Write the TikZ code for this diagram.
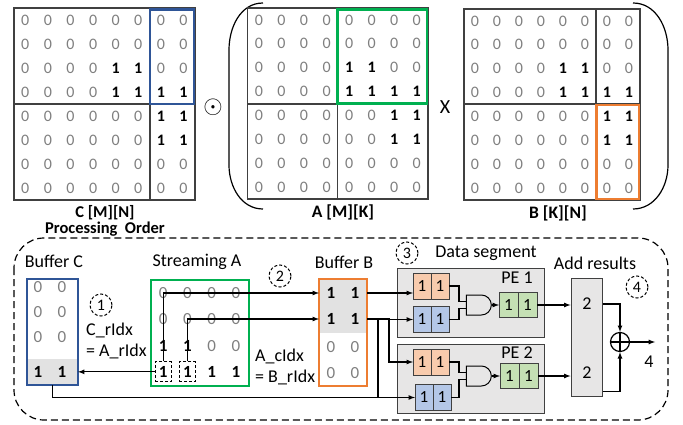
\documentclass[tikz,border=0pt]{standalone}
\usepackage{fontspec}
\setmainfont{Carlito}
\usepackage{tikz}
\usetikzlibrary{arrows,positioning,calc}
\usetikzlibrary{shapes.gates.logic.US}

\definecolor{cblue}{HTML}{2F5597}
\definecolor{agreen}{HTML}{00B050}
\definecolor{borange}{HTML}{ED7D31}
\definecolor{peorange}{HTML}{F8CBAD}
\definecolor{peblue}{HTML}{B4C7E7}
\definecolor{pegreen}{HTML}{C5E0B4}
\definecolor{pegray}{HTML}{E7E6E6}
\definecolor{bufgray}{HTML}{E2E2E2}
\definecolor{zerogray}{HTML}{7F7F7F}
\definecolor{framegray}{HTML}{404040}

% 8x8 block pattern shared by C, A and B
\newcommand{\blockrows}{{0,0,0,0,0,0,0,0},{0,0,0,0,0,0,0,0},{0,0,0,0,1,1,0,0},{0,0,0,0,1,1,1,1},%
  {0,0,0,0,0,0,1,1},{0,0,0,0,0,0,1,1},{0,0,0,0,0,0,0,0},{0,0,0,0,0,0,0,0}}
% name, x0, y0, dx, dy, rows
\newcommand{\sparsemat}[6]{%
  \foreach \rowvals [count=\ri from 0] in #6{%
    \foreach \v [count=\ci from 0] in \rowvals{%
      \node[mcell] (#1-\ri-\ci) at ({#2+(\ci+0.5)*#4},{#3+(\ri+0.5)*#5})
        {\ifnum\v=1 \bfseries\color{black}\fi\v};
    }%
  }%
}

\begin{document}
\begin{tikzpicture}
    [x=1pt,y=-1pt,line join=miter,
     mcell/.style={text=zerogray,inner sep=0,font=\fontsize{16}{16}\selectfont},
     bcell/.style={text=zerogray,inner sep=0,font=\fontsize{17}{17}\selectfont},
     lbl/.style={inner sep=1,font=\fontsize{18}{18}\selectfont},
     ttl/.style={inner sep=1,align=center,font=\fontsize{17.5}{15}\selectfont\bfseries},
     numcirc/.style={circle,draw,dash pattern=on 3pt off 2pt,line width=1,minimum size=22,inner sep=0,font=\fontsize{16}{16}\selectfont},
     matframe/.style={draw=framegray,line width=1.1},
     conn/.style={line width=1.2,-latex},
     wire/.style={line width=1.2},
     bufbox/.style={draw,line width=2.6,inner sep=0,outer sep=0},
     pecell/.style={draw=framegray,line width=0.9,minimum width=18,minimum height=26,inner sep=0,outer sep=0,font=\fontsize{17}{17}\selectfont},
     pebox/.style={draw=framegray,fill=pegray,line width=1,inner sep=0},
     andg/.style={and gate US,draw,logic gate inputs=nn,minimum height=20,minimum width=20,inner sep=0,line width=1}]
\useasboundingbox (0,0) rectangle (683,425);

%top row: C = A x B
% C [M][N]
\draw[matframe] (14,8) rectangle (195,200) (150,8) -- (150,200) (14,104) -- (195,104);
\sparsemat{C}{14}{8}{22.6}{24}{\blockrows}
\draw[cblue,line width=2.8] (150,9.5) rectangle (194,104);
\node[ttl,font=\fontsize{16.5}{16.5}\selectfont\bfseries] (ctitle) at (105,221) {C [M][N]\\Processing~ Order};

\node (hadamard) at (213,107) {\fontsize{28}{28}\selectfont$\odot$};

% A [M][K]
\draw[line width=1.2] (263,3) to[out=180,in=90] (229,50) -- (229,165) to[out=-90,in=180] (263,209);
\draw[matframe] (247.7,8) rectangle (428,199) (337.7,8) -- (337.7,199) (247.7,104) -- (428,104);
\sparsemat{A}{247.7}{8}{22.54}{23.9}{\blockrows}
\draw[agreen,line width=2.8] (337.7,9.5) rectangle (427,103.5);
\node[ttl] (atitle) at (343,212) {A [M][K]};

\node[lbl,font=\fontsize{20}{20}\selectfont] (times) at (445,107) {X};

% B [K][N]
\draw[matframe] (464,9) rectangle (640,200) (596,9) -- (596,200) (464,104) -- (640,104);
\sparsemat{B}{464}{9}{22}{23.9}{\blockrows}
\draw[borange,line width=2.8] (596.5,105) rectangle (639,199);
\draw[line width=1.2] (633,3) to[out=0,in=90] (668,50) -- (668,165) to[out=-90,in=0] (633,209);
\node[ttl] (btitle) at (558,213) {B [K][N]};

%bottom row: dataflow
\draw[line width=1.2,dash pattern=on 7pt off 4pt,rounded corners=30] (14,238) rectangle (668,420);

% Buffer C
\fill[bufgray] (27,359) rectangle (78,385);
\node[bufbox,draw=cblue,minimum width=51,minimum height=106] (bufC) at (52.5,332) {};
\foreach \y/\a/\b [count=\ri from 0] in {287/0/0,312/0/0,337/0/0,372/1/1}{
  \node[bcell] (bc-\ri-0) at (38,\y) {\ifnum\a=1 \bfseries\color{black}\fi\a};
  \node[bcell] (bc-\ri-1) at (62,\y) {\ifnum\b=1 \bfseries\color{black}\fi\b};
}
\node[lbl] (bufCname) at (54,261) {Buffer C};
\node[numcirc] (s1) at (101,305) {1};
\node[lbl,anchor=west] (crow) at (85,330) {C\_rIdx};
\node[lbl,anchor=west] (crowA) at (85,351) {= A\_rIdx};

% Streaming A
\node[bufbox,draw=agreen,minimum width=98,minimum height=106] (streamA) at (200,333) {};
\begin{scope}[mcell/.append style={font=\fontsize{17}{17}\selectfont}]
\sparsemat{sa}{151}{279.8}{24.3}{26.3}{{{0,0,0,0},{0,0,0,0},{1,1,0,0},{1,1,1,1}}}
\end{scope}
\node[draw,dash pattern=on 3pt off 2pt,line width=1,minimum width=16,minimum height=20] (sa1) at (sa-3-0) {};
\node[draw,dash pattern=on 3pt off 2pt,line width=1,minimum width=16,minimum height=20] (sa2) at (sa-3-1) {};
\node[lbl] (streamname) at (197,262) {Streaming A};
\node[lbl,anchor=west] (acol) at (254,356) {A\_cIdx};
\node[lbl,anchor=west] (acolB) at (254,377) {= B\_rIdx};

% Buffer B
\fill[bufgray] (319,279) rectangle (367,333);
\node[bufbox,draw=borange,minimum width=48,minimum height=107] (bufB) at (343,332.5) {};
\foreach \y/\a/\b [count=\ri from 0] in {293/1/1,319/1/1,347/0/0,373/0/0}{
  \node[bcell] (bb-\ri-0) at (331,\y) {\ifnum\a=1 \bfseries\color{black}\fi\a};
  \node[bcell] (bb-\ri-1) at (355,\y) {\ifnum\b=1 \bfseries\color{black}\fi\b};
}
\node[lbl] (bufBname) at (344,262) {Buffer B};
\node[numcirc] (s2) at (280,276) {2};

% PEs
\node[pebox,minimum width=147,minimum height=69] (pe1) at (470.5,302.5) {};
\node[pebox,minimum width=147,minimum height=69] (pe2) at (470.5,378.5) {};
\node[numcirc] (s3) at (407,253) {3};
\node[lbl] (segname) at (486,253) {Data segment};
\node[lbl] (pe1name) at (517,278) {PE 1};
\node[lbl] (pe2name) at (517,353) {PE 2};

\node[pecell,fill=peorange] (pe1a1) at (422,286) {1};
\node[pecell,fill=peorange,right=0pt of pe1a1] (pe1a2) {1};
\node[pecell,fill=peblue] (pe1b1) at (422,319.5) {1};
\node[pecell,fill=peblue,right=0pt of pe1b1] (pe1b2) {1};
\node[andg] (and1) at (478,305) {};
\node[pecell,fill=pegreen,minimum width=19,minimum height=25] (pe1c1) at (508.5,305) {1};
\node[pecell,fill=pegreen,minimum width=19,minimum height=25,right=0pt of pe1c1] (pe1c2) {1};

\node[pecell,fill=peorange] (pe2a1) at (422,362) {1};
\node[pecell,fill=peorange,right=0pt of pe2a1] (pe2a2) {1};
\node[pecell,fill=peblue] (pe2b1) at (424,397.5) {1};
\node[pecell,fill=peblue,right=0pt of pe2b1] (pe2b2) {1};
\node[andg] (and2) at (478,376) {};
\node[pecell,fill=pegreen,minimum width=19,minimum height=25] (pe2c1) at (509.5,376) {1};
\node[pecell,fill=pegreen,minimum width=19,minimum height=25,right=0pt of pe2c1] (pe2c2) {1};

\draw[wire] (pe1a2.east) -- ++(10,0) |- (and1.input 1);
\draw[wire] (pe1b2.east) -- ++(10,0) |- (and1.input 2);
\draw[conn] (and1.output) -- (pe1c1.west);
\draw[wire] (pe2a2.east) -- ++(10,0) |- (and2.input 1);
\draw[wire] (pe2b2.east) -- ++(8,0) |- (and2.input 2);
\draw[conn] (and2.output) -- (pe2c1.west);

% Add results
\node[pebox,minimum width=31,minimum height=118] (adder) at (586.5,337) {};
\node[lbl] (sum1) at (587,304) {2};
\node[lbl] (sum2) at (587,373) {2};
\node[lbl] (addname) at (595,263) {Add results};
\node[numcirc] (s4) at (637,287) {4};
\node[circle,draw,line width=1.2,minimum size=19,inner sep=0] (plus) at (620,342) {};
\draw[line width=1.2] (plus.north) -- (plus.south) (plus.west) -- (plus.east);
\node[lbl] (total) at (649,362) {4};

%connectors
\draw[conn] (sa1.north) |- (bufB.west |- bb-0-0);
\draw[conn] (sa2.north) |- (bufB.west |- bb-1-0);
\draw[conn] (sa1.west) -- (bufC.east |- sa1.west);
\draw[conn] (bufC.south) |- (pe2b1.west);
\coordinate (tap) at (378,397.5);
\draw[conn] (tap) |- (pe1b1.west);
\draw[conn] (bufB.east |- bb-0-0) -- (pe1a1.west |- bb-0-0);
\draw[conn] (bufB.east |- bb-1-0) -- ++(22,0) |- (pe2a1.west);
\draw[conn] (pe1c2.east) -- (adder.west |- pe1c2.east);
\draw[conn] (pe2c2.east) -- (adder.west |- pe2c2.east);
\draw[conn] (adder.east |- sum1) -| (plus.north);
\draw[conn] ($(adder.south east)+(0,-5)$) -| (plus.south);
\draw[conn] (plus.east) -- ++(25,0) coordinate (sumout);

\end{tikzpicture}
\end{document}
